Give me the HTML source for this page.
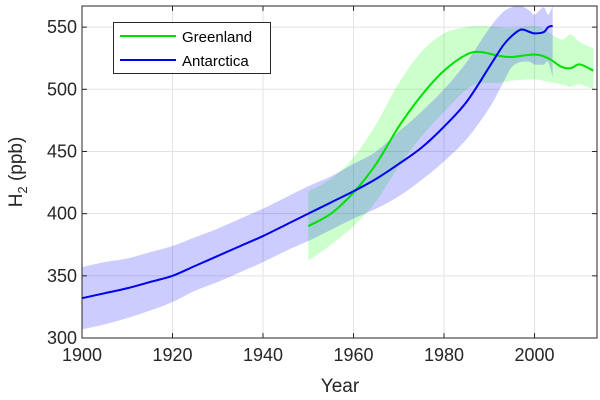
<!DOCTYPE html>
<html><head><meta charset="utf-8"><style>
body{margin:0;background:#fff}
svg{display:block;font-family:"Liberation Sans",Arial,sans-serif}
</style></head><body>
<svg id="c" width="600" height="400"></svg>
<script>
const antYears=[1900,1905,1910,1915,1920,1925,1930,1935,1940,1945,1950,1955,1960,1965,1970,1975,1980,1985,1990,1993,1995,1997,1999,2000,2002,2003,2004];
const antMean=[332,336,340,345,350,358,366,374,382,391,400,409,418,428,440,453,470,490,518,535,543,548,546,545,546,550,551];
const antLow=[307,311,316,322,329,338,345,353,361,370,378,387,396,404,414,427,442,460,485,505,518,522,522,520,520,522,510];
const antHigh=[357,361,364,369,374,381,388,396,404,413,422,430,440,450,466,482,500,522,549,562,566,567,563,560,566,560,567];
const grYears=[1950,1955,1960,1965,1970,1975,1980,1985,1988,1992,1995,2000,2003,2006,2008,2010,2013];
const grMean=[390,400,417,440,470,495,515,528,530,527,526,528,525,518,517,520,515];
const grLow=[362,375,390,410,438,462,482,500,505,505,507,508,506,504,502,504,500];
const grHigh=[418,428,445,472,505,530,545,550,551,550,549,551,546,540,544,538,533];
const xTicks=[1900,1920,1940,1960,1980,2000];
const yTicks=[300,350,400,450,500,550];
const L=82,R=597,T=6,B=338,X0=1900,X1=2013.8,Y0=300,Y1=567;
const sx=v=>L+(v-X0)/(X1-X0)*(R-L), sy=v=>B-(v-Y0)/(Y1-Y0)*(B-T);
const svg=document.getElementById('c'),NS='http://www.w3.org/2000/svg';
function mk(t,a,p){const e=document.createElementNS(NS,t);for(const k in a)e.setAttribute(k,a[k]);(p||svg).appendChild(e);return e;}
function smooth(pts,start){let d=start?'M'+pts[0][0]+','+pts[0][1]:'L'+pts[0][0]+','+pts[0][1];
for(let i=0;i<pts.length-1;i++){const p0=pts[i-1]||pts[i],p1=pts[i],p2=pts[i+1],p3=pts[i+2]||p2;
d+='C'+(p1[0]+(p2[0]-p0[0])/6)+','+(p1[1]+(p2[1]-p0[1])/6)+' '+(p2[0]-(p3[0]-p1[0])/6)+','+(p2[1]-(p3[1]-p1[1])/6)+' '+p2[0]+','+p2[1];}
return d;}
for(const t of xTicks){const g=mk('line',{x1:sx(t),x2:sx(t),y1:T,y2:B,stroke:'#e3e3e3'});

}
for(const t of yTicks){const g=mk('line',{x1:L,x2:R,y1:sy(t),y2:sy(t),stroke:'#e3e3e3'});

}
function band(xs,lo,hi,fill,name){
const up=xs.map((x,i)=>[sx(x),sy(hi[i])]);
const dn=xs.map((x,i)=>[sx(x),sy(lo[i])]).reverse();
const p=mk('path',{d:smooth(up,true)+smooth(dn,false)+'Z',fill:fill,'fill-opacity':0.2,stroke:'none'});

}
function line(xs,ys,col,name){
const p=mk('path',{d:smooth(xs.map((x,i)=>[sx(x),sy(ys[i])]),true),fill:'none',stroke:col,'stroke-width':2,'stroke-linejoin':'round'});

}
band(grYears,grLow,grHigh,'#00ff00','greenland-band');
band(antYears,antLow,antHigh,'#0000ff','antarctica-band');
line(grYears,grMean,'#00e000','greenland-line');
line(antYears,antMean,'#0000ee','antarctica-line');
const ax=mk('rect',{x:L,y:T,width:R-L,height:B-T,fill:'none',stroke:'#262626'});


for(const t of xTicks){mk('line',{x1:sx(t),x2:sx(t),y1:B,y2:B-5,stroke:'#262626'});mk('line',{x1:sx(t),x2:sx(t),y1:T,y2:T+5,stroke:'#262626'});
const tx=mk('text',{x:sx(t),y:B+23,'text-anchor':'middle','font-size':18,fill:'#262626'});tx.textContent=t;

}
for(const t of yTicks){mk('line',{x1:L,x2:L+5,y1:sy(t),y2:sy(t),stroke:'#262626'});mk('line',{x1:R,x2:R-5,y1:sy(t),y2:sy(t),stroke:'#262626'});
const tx=mk('text',{x:L-5,y:sy(t)+6,'text-anchor':'end','font-size':18,fill:'#262626'});tx.textContent=t;

}
</script>
<svg width="600" height="400" style="position:absolute;left:0;top:0">
<text x="340" y="392" text-anchor="middle" font-size="19" fill="#262626">Year</text>
<text transform="translate(22,172) rotate(-90)" text-anchor="middle" font-size="19" fill="#262626">H<tspan font-size="13" dy="5">2</tspan><tspan dy="-5"> (ppb)</tspan></text>
<g>
<rect x="113.5" y="22.5" width="157" height="51" fill="#fff" stroke="#262626"/>
<line x1="120" x2="176" y1="36" y2="36" stroke="#00e000" stroke-width="2"/>
<text x="182" y="42" font-size="15" fill="#000">Greenland</text>
<line x1="120" x2="176" y1="60" y2="60" stroke="#0000ee" stroke-width="2"/>
<text x="182" y="66" font-size="15" fill="#000">Antarctica</text>
</g>
</svg>
</body></html>
